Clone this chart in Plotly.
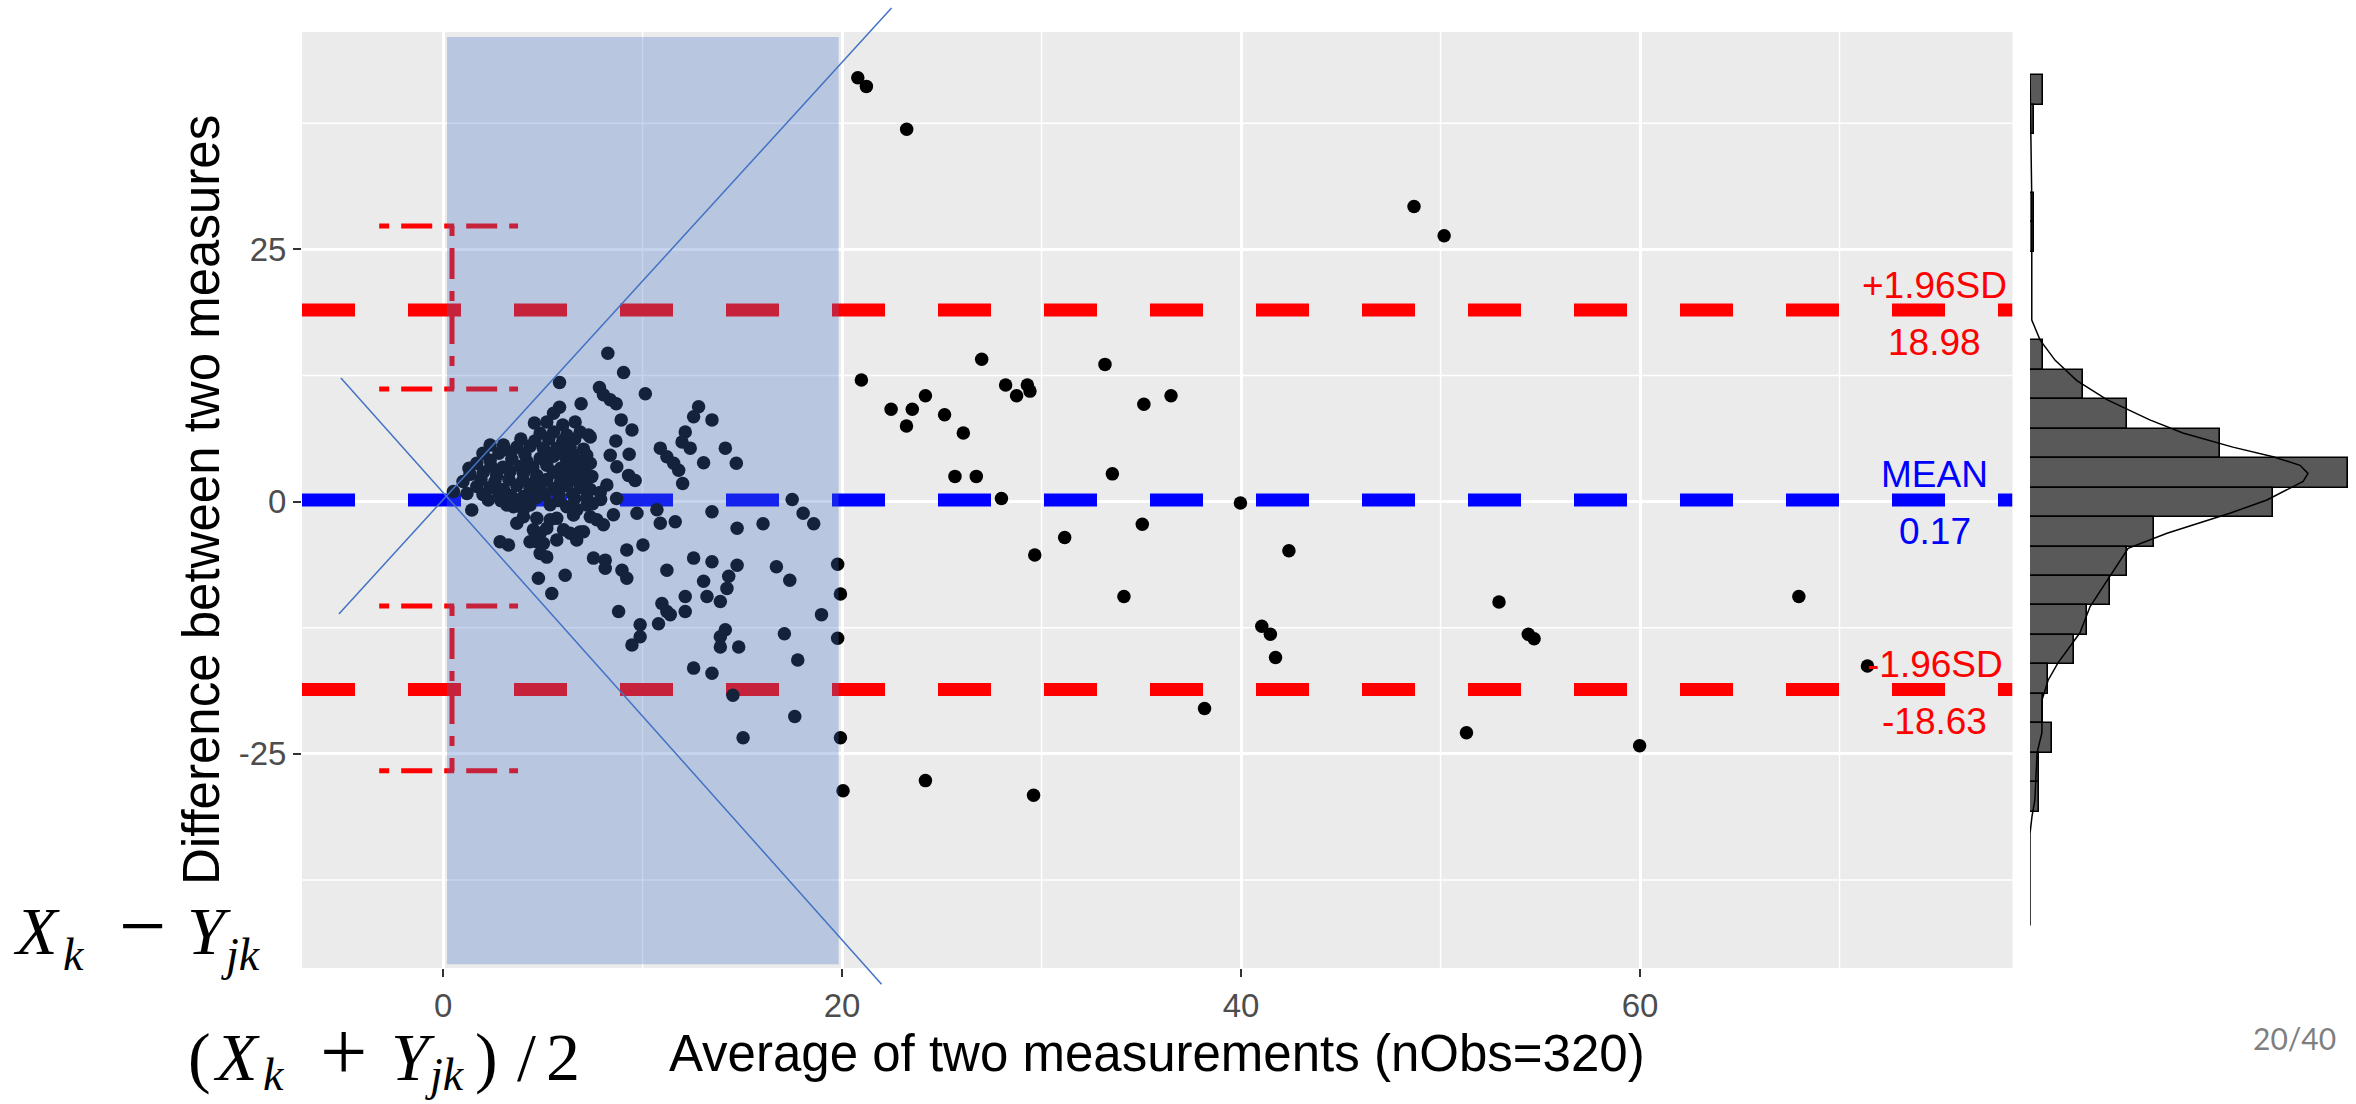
import plotly.graph_objects as go

# ---------------- data ----------------
# sparse / clearly visible points
avg_sparse = [20.79, 21.22, 23.24, 48.67, 50.18,
              20.97, 27.0, 33.18, 22.46, 23.52, 24.18, 23.23, 25.14, 26.08, 28.2, 28.75, 29.29, 29.42,
              35.13, 36.49, 25.66, 26.73, 33.55, 27.99, 39.97, 35.05, 31.16, 29.66, 42.4, 34.13,
              41.04, 41.47, 41.73, 52.93, 54.4, 54.69, 38.17, 51.3, 59.98, 67.96, 71.4, 24.18,
              29.6, 20.05, 19.92, 19.78, 19.92, 19.78, 18.97,
              17.5, 18.05, 18.58, 16.04, 16.71, 17.38, 17.11, 17.78, 17.63, 15.04, 14.53, 14.7]
diff_sparse = [42.0, 41.15, 36.9, 29.25, 26.35,
               12.05, 14.1, 13.6, 9.15, 9.15, 10.5, 7.5, 8.6, 6.8, 11.55, 10.5, 11.55, 10.95,
               9.65, 10.5, 2.5, 2.5, 2.75, 0.3, -0.13, -2.25, -3.56, -5.3, -4.87, -9.4,
               -12.35, -13.15, -15.45, -9.95, -13.15, -13.6, -20.5, -22.9, -24.2, -9.4, -16.3, -27.65,
               -29.1, -28.65, -23.4, -6.2, -9.15, -13.55, -11.2,
               0.2, -1.16, -2.2, -2.2, -6.45, -7.8, -13.1, -15.7, -21.3, -23.4, -19.2, 3.8]

# points inside the shaded band, upper half
avg_upper = [8.26, 9.05, 5.84, 10.14, 7.84, 8.04, 8.38, 8.68, 6.92, 5.84, 5.54, 12.81, 12.56, 13.48,
             8.93, 9.47, 4.58, 5.2, 6.62, 12.14, 11.98, 12.39, 7.38, 8.66, 9.33, 10.89, 11.22, 11.56,
             11.81, 14.15, 13.06, 12.01, 8.38, 8.71, 9.3, 9.63, 8.21]
diff_upper = [14.7, 12.8, 11.8, 10.7, 11.3, 10.6, 10.1, 9.7, 9.7, 9.35, 8.75, 9.4, 8.4, 8.1,
              8.1, 7.1, 7.8, 7.9, 7.9, 6.9, 5.9, 5.3, 6.4, 6.0, 4.7, 5.3, 4.45, 3.8,
              3.1, 5.3, 3.85, 1.8, 4.6, 3.45, 2.6, 2.1, 1.65]

# points inside the shaded band, lower half
avg_lower = [1.44, 2.27, 3.7, 2.86, 3.28, 4.7, 5.2, 4.87, 4.78, 5.45, 6.12, 5.37, 6.37, 7.04, 6.71,
             4.03, 3.53, 8.04, 8.54, 7.71, 9.21, 10.02, 7.54, 8.13, 8.13, 8.97, 9.21, 8.8, 10.89,
             11.64, 9.72, 10.72, 13.48, 14.74, 11.22, 12.56, 13.48, 13.06, 13.23, 13.9, 14.32,
             14.23, 14.74, 12.14, 12.14, 10.97, 11.22, 11.39, 10.8, 9.88, 9.88, 9.47, 14.15, 13.9,
             13.9, 14.82, 12.56, 13.48]
diff_lower = [-0.83, 0.16, -2.15, -3.97, -4.3, -3.97, -5.5, -3.14, -7.6, -9.1, -7.3, -1.8, -3.14, -2.98, -0.8,
              -0.8, -0.5, -2.3, -1.3, -1.8, -4.8, -4.3, -5.6, -5.8, -6.6, -6.8, -7.6, -10.9, -2.15,
              -2.0, -1.16, -0.8, -1.0, -2.65, -6.8, -5.6, -5.95, -7.9, -9.4, -9.9, -7.4,
              -8.6, -6.3, -9.4, -10.9, -10.1, -10.9, -11.2, -12.1, -12.2, -13.4, -14.2, -12.7, -13.4,
              -14.4, -14.4, -16.5, -17.0]

# the dense cluster near the origin
avg_dense = [6.0, 4.87, 5.54, 6.2, 6.87, 7.29,
             2.36, 3.03, 3.7, 4.36, 5.03, 5.7, 6.37, 7.04,
             1.69, 2.36, 3.45, 4.2, 4.87, 5.54, 6.2, 6.87, 7.38,
             1.35, 2.02, 2.69, 3.36, 4.03, 4.7, 5.54, 6.2, 6.87, 7.46,
             1.69, 2.36, 3.03, 3.7, 4.36, 4.87, 5.54, 6.2, 6.87, 7.38,
             0.52, 4.03, 4.7, 7.21, 7.88,
             3.9, 4.6, 5.3, 6.0, 6.6,
             2.0, 2.8, 3.4, 4.1, 5.2, 5.9, 6.5, 7.2,
             1.3, 2.4, 3.0, 3.9, 4.5, 5.2, 5.9, 6.5, 7.1,
             1.0, 1.9, 2.6, 3.3, 4.0, 4.6, 5.2, 5.9, 6.5, 7.1,
             1.2, 2.0, 2.8, 3.4, 5.1, 5.8, 6.5,
             3.2, 4.36, 5.37, 6.2, 7.21,
             4.03, 4.7, 5.7, 6.54, 7.38,
             4.53, 5.2, 6.04, 6.87,
             4.36, 5.03, 5.7, 6.7, 4.87,
             2.9, 3.9, 5.8, 6.6, 7.5, 7.9, 8.7]
diff_dense = [7.6, 6.77, 6.9, 6.6, 6.9, 6.6,
              5.6, 5.6, 5.4, 5.5, 5.3, 5.3, 5.4, 5.2,
              3.8, 4.1, 4.2, 4.0, 4.3, 4.5, 4.1, 4.0, 3.8,
              2.7, 2.9, 2.6, 3.0, 2.8, 2.6, 2.9, 2.7, 2.8, 2.5,
              1.5, 1.4, 1.2, 1.6, 1.3, 1.5, 1.3, 1.6, 1.4, 1.2,
              1.0, 0.5, 0.4, 0.4, 0.9,
              6.2, 6.0, 6.2, 6.0, 6.2,
              4.8, 4.8, 4.9, 4.7, 4.9, 4.8, 4.7, 4.6,
              3.3, 3.5, 3.4, 3.5, 3.4, 3.6, 3.3, 3.5, 3.2,
              2.0, 2.2, 2.0, 2.2, 2.1, 2.0, 2.2, 2.0, 2.2, 2.0,
              0.8, 0.7, 0.8, 0.6, 0.7, 0.8, 0.7,
              -0.34, -0.34, -0.3, -0.5, -0.34,
              -1.5, -1.66, -1.66, -1.33, -1.5,
              -2.8, -2.65, -2.8, -3.0,
              -3.97, -4.14, -3.8, -3.8, -5.13,
              0.1, 0.2, 0.1, 0.3, -0.2, 0.2, 0.3]

avg_x = avg_sparse + avg_upper + avg_lower + avg_dense
diff_y = diff_sparse + diff_upper + diff_lower + diff_dense

mean_diff = 0.17
upper_loa = 18.98
lower_loa = -18.63
upper_ci = [11.15, 27.31]
lower_ci = [-26.67, -10.35]
ci_x = 0.45
ci_whisker = [-3.2, 3.76]
label_x = 74.78

# marginal histogram (bin width 2.92, top edge 42.27)
hist_top = 42.27
hist_binw = 2.92
hist_counts = [3, 1, 0, 0, 1, 1, 0, 0, 0, 3, 12, 22, 43, 72, 55, 28, 22, 18, 13, 10, 4, 3, 5, 2, 2]
dens_y = [42.27, 39.0, 36.0, 30.0, 24.0, 18.0, 16.0, 14.0, 12.0, 10.1, 8.1, 6.8, 5.4, 4.45, 3.6, 2.8,
          2.0, 1.3, 0.16, -1.16, -3.14, -4.63, -7.44, -10.4, -13.0, -16.0, -17.7, -19.7, -22.9,
          -24.9, -29.6, -31.2, -32.9, -42.0]
dens_x = [0, 0.1, 0.2, 0.4, 0.4, 0.4, 2.3, 5.7, 10.6, 17.4, 27.1, 34.6, 45.9, 55.0, 61.1, 62.9,
          61.8, 58.8, 53.6, 45.2, 31.0, 22.2, 18.1, 13.6, 11.3, 6.3, 4.1, 2.7, 2.7,
          1.6, 1.1, 0.45, 0, 0]

# highlighted band and guide lines (drawn on the slide)
band_x = [0.2, 19.83]
band_y = [-45.84, 46.05]
diag1 = [(-5.22, -11.14), (22.48, 48.92)]
diag2 = [(-5.12, 12.25), (21.98, -47.82)]

x_ticks = [0, 20, 40, 60]
x_minor = [10, 30, 50, 70]
y_ticks = [-25, 0, 25]
y_tick_text = ["-25", "0", "25"]
y_minor = [-37.5, -12.5, 12.5, 37.5]

x_range = [-7.07, 78.67]
y_range = [-46.22, 46.54]

# ---------------- layout geometry ----------------
W, H = 2356, 1104
main_xdom = [302 / W, 2012.5 / W]
main_ydom = [1 - 968 / H, 1 - 32 / H]
hist_xdom = [2030 / W, 2350 / W]
hist_range = [0, 72.4]

FONT = "Liberation Sans"
MATH = "Liberation Serif"
RED = "#FF0000"
BLUE = "#0000FF"
SLIDE_BLUE = "#4472C4"


def fx(v):
    return (v - x_range[0]) / (x_range[1] - x_range[0])


def fy(v):
    return (v - y_range[0]) / (y_range[1] - y_range[0])


fig = go.Figure()

# horizontal reference lines
for val, col in [(upper_loa, RED), (mean_diff, BLUE), (lower_loa, RED)]:
    fig.add_trace(go.Scatter(x=x_range, y=[val, val], mode="lines",
                             line=dict(color=col, width=13, dash="53px,53px"),
                             hoverinfo="skip", showlegend=False))

# confidence-interval error bars (dot-dash)
for lo, hi in [upper_ci, lower_ci]:
    ex = [ci_whisker[0], ci_whisker[1], None, ci_x, ci_x, None, ci_whisker[0], ci_whisker[1]]
    ey = [hi, hi, None, hi, lo, None, lo, lo]
    fig.add_trace(go.Scatter(x=ex, y=ey, mode="lines",
                             line=dict(color=RED, width=5, dash="10px,12px,31px,12px"),
                             hoverinfo="skip", showlegend=False, connectgaps=False))

# scatter points
fig.add_trace(go.Scatter(x=avg_x, y=diff_y, mode="markers",
                         marker=dict(color="black", size=13.5, line=dict(width=0)),
                         showlegend=False))

# marginal histogram
centers = [hist_top - hist_binw * (i + 0.5) for i in range(len(hist_counts))]
fig.add_trace(go.Bar(x=hist_counts, y=centers, orientation="h", width=hist_binw,
                     marker=dict(color="#595959", line=dict(color="black", width=1.6)),
                     xaxis="x2", yaxis="y2", showlegend=False))
fig.add_trace(go.Scatter(x=dens_x, y=dens_y, mode="lines", line=dict(color="black", width=1.5),
                         xaxis="x2", yaxis="y2", showlegend=False))

shapes = [
    # panel background
    dict(type="rect", xref="x domain", yref="y domain", x0=0, x1=1, y0=0, y1=1,
         fillcolor="#EBEBEB", line=dict(width=0), layer="below"),
]
# minor grid lines (below the major ones)
for v in x_minor:
    shapes.append(dict(type="line", xref="x", yref="y domain", x0=v, x1=v, y0=0, y1=1,
                       line=dict(color="white", width=1.4), layer="below"))
for v in y_minor:
    shapes.append(dict(type="line", xref="x domain", yref="y", x0=0, x1=1, y0=v, y1=v,
                       line=dict(color="white", width=1.4), layer="below"))
# translucent highlight band
shapes.append(dict(type="rect", xref="x", yref="y", x0=band_x[0], x1=band_x[1], y0=band_y[0], y1=band_y[1],
                   fillcolor="rgba(68,114,196,0.30)", line=dict(width=0), layer="above"))
for (a, b) in [diag1, diag2]:
    shapes.append(dict(type="line", xref="x domain", yref="y domain",
                       x0=fx(a[0]), y0=fy(a[1]), x1=fx(b[0]), y1=fy(b[1]),
                       line=dict(color=SLIDE_BLUE, width=1.5), layer="above"))

annotations = []
for val, col, top, bottom in [(upper_loa, RED, "+1.96SD", "18.98"),
                              (mean_diff, BLUE, "MEAN", "0.17"),
                              (lower_loa, RED, "-1.96SD", "-18.63")]:
    annotations.append(dict(x=label_x, y=val, xref="x", yref="y", text=top, showarrow=False,
                            xanchor="center", yanchor="middle", yshift=25,
                            font=dict(family=FONT, size=37, color=col)))
    annotations.append(dict(x=label_x, y=val, xref="x", yref="y", text=bottom, showarrow=False,
                            xanchor="center", yanchor="middle", yshift=-32,
                            font=dict(family=FONT, size=37, color=col)))

# axis titles
annotations.append(dict(x=(main_xdom[0] + main_xdom[1]) / 2, y=1 - 1053 / H, xref="paper", yref="paper",
                        text="Average of two measurements (nObs=320)", showarrow=False,
                        xanchor="center", yanchor="middle",
                        font=dict(family=FONT, size=51, color="black")))
annotations.append(dict(x=201 / W, y=(main_ydom[0] + main_ydom[1]) / 2, xref="paper", yref="paper",
                        text="Difference between two measures", showarrow=False, textangle=-90,
                        xanchor="center", yanchor="middle",
                        font=dict(family=FONT, size=51, color="black")))

# slide formulas, built glyph by glyph: (text, left/center x px, baseline px, size, anchor)
MAIN_SIZE = 68
SUB_SIZE = 46
OP_SIZE = 84
formula_pieces = [
    ("<i>X</i>", 12, 953.7, MAIN_SIZE, "left"),
    ("<i>k</i>", 62, 970, SUB_SIZE, "left"),
    ("−", 142, 953.7, OP_SIZE, "center"),
    ("<i>Y</i>", 186, 953.7, MAIN_SIZE, "left"),
    ("<i>jk</i>", 220, 970, SUB_SIZE, "left"),
    ("(", 187, 1079.6, MAIN_SIZE, "left"),
    ("<i>X</i>", 212, 1079.6, MAIN_SIZE, "left"),
    ("<i>k</i>", 262, 1090, SUB_SIZE, "left"),
    ("+", 343, 1079.6, OP_SIZE, "center"),
    ("<i>Y</i>", 390, 1079.6, MAIN_SIZE, "left"),
    ("<i>jk</i>", 424, 1090, SUB_SIZE, "left"),
    (")", 474, 1079.6, MAIN_SIZE, "left"),
    ("/", 526, 1079.6, MAIN_SIZE, "center"),
    ("2", 545, 1079.6, MAIN_SIZE, "left"),
]
for txt, xp, base, size, anchor in formula_pieces:
    center_y = base - 0.3375 * size
    annotations.append(dict(x=xp / W, y=1 - center_y / H, xref="paper", yref="paper",
                            text=txt, showarrow=False, xanchor=anchor, yanchor="middle",
                            borderpad=0,
                            font=dict(family=MATH, size=size, color="black")))

annotations.append(dict(x=2338 / W, y=1 - 1038 / H, xref="paper", yref="paper",
                        text="20/40", showarrow=False, xanchor="right", yanchor="middle",
                        font=dict(family="Lato", size=30, color="#7F7F7F")))

fig.update_layout(
    width=W, height=H,
    margin=dict(l=0, r=0, t=0, b=0),
    paper_bgcolor="white", plot_bgcolor="white",
    showlegend=False,
    xaxis=dict(domain=main_xdom, range=x_range, anchor="y",
               tickmode="array", tickvals=x_ticks, ticktext=[str(v) for v in x_ticks],
               showgrid=True, gridcolor="white", gridwidth=2.6,
               zeroline=False, showline=False,
               ticks="outside", ticklen=8, tickwidth=2, tickcolor="#333333",
               tickfont=dict(family=FONT, size=33, color="#4D4D4D")),
    yaxis=dict(domain=main_ydom, range=y_range, anchor="x",
               tickmode="array", tickvals=y_ticks, ticktext=y_tick_text,
               showgrid=True, gridcolor="white", gridwidth=2.6,
               zeroline=False, showline=False,
               ticks="outside", ticklen=8, tickwidth=2, tickcolor="#333333",
               tickfont=dict(family=FONT, size=33, color="#4D4D4D")),
    xaxis2=dict(domain=hist_xdom, range=hist_range, anchor="y2", visible=False,
                showgrid=False, zeroline=False),
    yaxis2=dict(domain=main_ydom, matches="y", anchor="x2", visible=False,
                showgrid=False, zeroline=False),
    shapes=shapes,
    annotations=annotations,
    bargap=0,
)

fig.write_html("out.html", config={"displayModeBar": False},
               post_script="document.body.style.margin='0';document.body.style.overflow='hidden';")
